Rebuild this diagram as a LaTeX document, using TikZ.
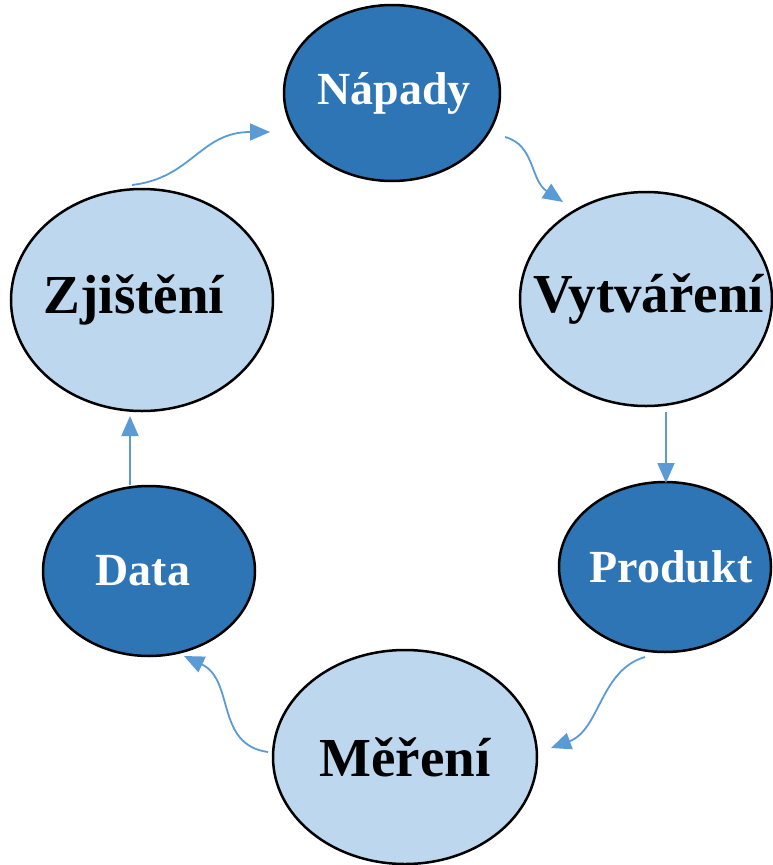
\documentclass[tikz,border=0pt]{standalone}
\usepackage{fontspec}
\setmainfont{Liberation Serif}
\usetikzlibrary{arrows.meta,shapes.geometric}
\definecolor{darkfill}{HTML}{2E75B6}
\definecolor{lightfill}{HTML}{BDD7EE}
\definecolor{arrowcol}{HTML}{5B9BD5}
\begin{document}
\begin{tikzpicture}[x=1pt,y=-1pt,
  bubble/.style={ellipse, draw=black, line width=2.5pt, inner sep=0pt},
  darkb/.style={bubble, fill=darkfill},
  lightb/.style={bubble, fill=lightfill},
  bigtxt/.style={font=\fontsize{55}{60}\selectfont\bfseries, text=black},
  smalltxt/.style={font=\fontsize{46}{50}\selectfont\bfseries, text=white},
  flow/.style={draw=arrowcol, line width=1.8pt, -{Triangle[length=20pt,width=17pt]}}]
\useasboundingbox (0,0) rectangle (772,865);
% nodes
\node[darkb, minimum width=216pt, minimum height=176pt,
  label={[smalltxt, xshift=2pt]center:Nápady}] (na) at (392,93) {};
\node[lightb, minimum width=252pt, minimum height=214pt,
  label={[bigtxt, xshift=3pt]center:Vytváření}] (vy) at (646,299) {};
\node[darkb, minimum width=212pt, minimum height=170pt,
  label={[smalltxt, xshift=6pt]center:Produkt}] (pr) at (665,567) {};
\node[lightb, minimum width=264pt, minimum height=214pt,
  label={[bigtxt]center:Měření}] (me) at (405,757) {};
\node[darkb, minimum width=212pt, minimum height=170pt,
  label={[smalltxt, xshift=-6pt]center:Data}] (da) at (149,571) {};
\node[lightb, minimum width=262pt, minimum height=222pt,
  label={[bigtxt, xshift=-8pt]center:Zjištění}] (zj) at (142,300) {};
% connector end points
\coordinate (zjout) at (132,185);
\coordinate (nain) at (270,132);
\coordinate (naout) at (505,137);
\coordinate (vyin) at (563,202);
\coordinate (vyout) at (666,412);
\coordinate (prin) at (666,483);
\coordinate (prout) at (645,657);
\coordinate (mein) at (551,748);
\coordinate (meout) at (268,752);
\coordinate (dain) at (184,656);
\coordinate (daout) at (130,485);
\coordinate (zjin) at (130,416);
% connectors
\draw[flow] (zjout) .. controls (192,178) and (200,132) .. (nain);
\draw[flow] (naout) .. controls (535,145) and (530,180) .. (vyin);
\draw[flow] (vyout) -- (prin);
\draw[flow] (prout) .. controls (600,670) and (600,730) .. (mein);
\draw[flow] (meout) .. controls (215,745) and (235,680) .. (dain);
\draw[flow] (daout) -- (zjin);
\end{tikzpicture}
\end{document}
